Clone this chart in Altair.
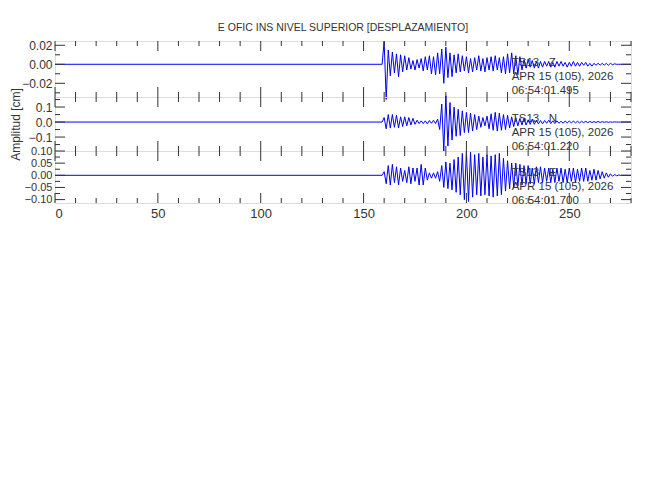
import altair as alt
import pandas as pd

# ---------------- data ----------------
T0 = 159.0   # time of first detailed sample (s)
DT = 1.0     # sample spacing (s)

z_vals = [
    0, 0.024, -0.037, 0.015, -0.012, 0.013, -0.009, 0.011, -0.013, 0.010,
    -0.008, 0.009, -0.006, 0.007, -0.005, 0.004, -0.006, 0.005, -0.004, 0.006,
    -0.007, 0.008, -0.006, 0.009, -0.010, 0.008, -0.011, 0.012, -0.010, 0.016,
    -0.020, 0.018, -0.014, 0.012, -0.013, 0.010, -0.009, 0.011, -0.008, 0.009,
    -0.007, 0.008, -0.009, 0.006, -0.008, 0.007, -0.006, 0.009, -0.007, 0.006,
    -0.008, 0.007, -0.006, 0.008, -0.007, 0.009, -0.006, 0.007, -0.009, 0.008,
    -0.010, 0.011, -0.009, 0.012, -0.010, 0.009, -0.011, 0.008, -0.006, 0.005,
    -0.004, 0.005, -0.003, 0.004, -0.004, 0.003, -0.004, 0.003, -0.003, 0.003,
    -0.002, 0.003, -0.003, 0.002, -0.003, 0.003, -0.002, 0.003, -0.002, 0.002,
    -0.003, 0.002, -0.002, 0.003, -0.002, 0.002, -0.002, 0.002, -0.001, 0.002,
    -0.002, 0.001, -0.002, 0.001, -0.001, 0.001, -0.001, 0.001, -0.001, 0.001,
    -0.001, 0.001, -0.0005, 0.0005, 0, 0, 0, 0, 0, 0, 0,
]

n_vals = [
    0, 0.03, -0.045, 0.05, -0.04, 0.05, -0.035, 0.045, -0.04, 0.035,
    -0.03, 0.035, -0.025, 0.03, -0.02, 0.025, -0.015, 0.012, -0.01, 0.008,
    -0.01, 0.008, -0.012, 0.01, -0.008, 0.012, -0.01, 0.02, -0.05, 0.12,
    -0.193, 0.175, -0.16, 0.13, -0.12, 0.1, -0.095, 0.085, -0.09, 0.075,
    -0.07, 0.065, -0.07, 0.06, -0.06, 0.05, -0.05, 0.04, -0.035, 0.03,
    -0.025, 0.04, -0.045, 0.055, -0.055, 0.065, -0.06, 0.06, -0.055, 0.05,
    -0.05, 0.045, -0.04, 0.035, -0.03, 0.03, -0.025, 0.025, -0.02, 0.025,
    -0.02, 0.015, -0.015, 0.02, -0.015, 0.012, -0.012, 0.01, -0.012, 0.01,
    -0.008, 0.012, -0.01, 0.008, -0.01, 0.008, -0.008, 0.006, -0.008, 0.007,
    -0.006, 0.007, -0.005, 0.006, -0.005, 0.005, -0.006, 0.005, -0.004, 0.005,
    -0.004, 0.004, -0.003, 0.003, -0.003, 0.004, -0.003, 0.003, -0.002, 0.002,
    -0.002, 0.001, -0.001, 0.001, 0, 0, 0, 0, 0, 0, 0,
]

e_vals = [
    0, 0.015, -0.035, 0.04, -0.04, 0.045, -0.03, 0.035, -0.04, 0.03,
    -0.025, 0.02, -0.03, 0.035, -0.035, 0.03, -0.025, 0.03, -0.04, 0.045,
    -0.04, 0.03, -0.02, 0.01, -0.012, 0.01, -0.012, 0.015, -0.025, 0.04,
    -0.05, 0.055, -0.055, 0.05, -0.06, 0.065, -0.07, 0.075, -0.08, 0.09,
    -0.1, 0.1, -0.108, 0.095, -0.09, 0.085, -0.08, 0.09, -0.085, 0.075,
    -0.08, 0.085, -0.085, 0.08, -0.09, 0.085, -0.085, 0.09, -0.08, 0.07,
    -0.065, 0.06, -0.055, 0.05, -0.05, 0.05, -0.045, 0.045, -0.04, 0.04,
    -0.035, 0.04, -0.035, 0.03, -0.035, 0.035, -0.03, 0.035, -0.03, 0.03,
    -0.025, 0.03, -0.03, 0.025, -0.03, 0.03, -0.025, 0.03, -0.03, 0.025,
    -0.03, 0.03, -0.025, 0.03, -0.03, 0.025, -0.025, 0.03, -0.025, 0.03,
    -0.025, 0.02, -0.02, 0.025, -0.02, 0.02, -0.015, 0.015, -0.012, 0.01,
    -0.008, 0.006, -0.004, 0.003, -0.002, 0.001, 0, 0, 0, 0, 0,
]

title_text = "E OFIC INS NIVEL SUPERIOR [DESPLAZAMIENTO]"
y_title = "Amplitud [cm]"
NB = "\u00a0"
labels = [
    ["TS13" + NB * 3 + "Z", "APR 15 (105), 2026", "06:54:01.495"],
    ["TS13" + NB * 3 + "N", "APR 15 (105), 2026", "06:54:01.220"],
    ["TS13" + NB * 3 + "E", "APR 15 (105), 2026", "06:54:01.700"],
]
label_t = 222.0
x_dom = [0, 280]
x_label_values = [0, 50, 100, 150, 200, 250]
x_tick_values = list(range(0, 281, 10))

y_doms = [[-0.0344, 0.0245], [-0.193, 0.167], [-0.114, 0.100]]
y_majors = [[-0.02, 0.0, 0.02], [-0.1, 0.0, 0.1], [-0.10, -0.05, 0.0, 0.05, 0.10]]
y_minors = [[-0.03, -0.01, 0.01], [-0.15, -0.05, 0.05, 0.15], [-0.075, -0.025, 0.025, 0.075]]
y_fmts = [".2f", ".1f", ".2f"]
y_label_sizes = [12, 12, 11]
heights = [56, 54, 52]
W = 576

FONT = "Liberation Sans"
TXT = "#333333"
TICK = "#333333"
LINE = "#0000ff"


def panel(i, vals, show_x, show_ytitle, title=None):
    h = heights[i]
    ts = [0.0] + [T0 + k * DT for k in range(len(vals))] + [280.0]
    amps = [0.0] + list(vals) + [0.0]
    df = pd.DataFrame({"t": ts, "a": amps})

    xs = alt.Scale(domain=x_dom, nice=False, zero=False)
    ys = alt.Scale(domain=y_doms[i], nice=False, zero=False)

    if show_x:
        xaxis = alt.Axis(values=x_label_values, format="d", ticks=False, domain=False,
                         grid=False, labelPadding=4, title=None, labelFont=FONT,
                         labelFontSize=13, labelColor=TXT)
    else:
        xaxis = None
    ykw = dict(values=y_majors[i], format=y_fmts[i], ticks=False, domain=False,
               grid=False, labelPadding=3, labelFont=FONT,
               labelFontSize=y_label_sizes[i], labelColor=TXT)
    if show_ytitle:
        ykw.update(title=y_title, titleFont=FONT, titleFontSize=12,
                   titleFontWeight="normal", titleColor=TXT, titlePadding=6)
    else:
        ykw.update(title=None)
    yaxis = alt.Axis(**ykw)

    X = alt.X("t:Q", scale=xs, axis=xaxis)
    Y = alt.Y("a:Q", scale=ys, axis=yaxis)

    layers = []
    line = alt.Chart(df).mark_line(color=LINE, strokeWidth=1).encode(x=X, y=Y)
    layers.append(line)

    xt = pd.DataFrame({"t": x_tick_values})
    xt["major"] = [v % 50 == 0 for v in x_tick_values]
    xmaj = xt[xt["major"]][["t"]]
    xmin = xt[~xt["major"]][["t"]]
    for d, ln in ((xmaj, 10), (xmin, 5)):
        layers.append(alt.Chart(d).mark_rule(color=TICK, strokeWidth=1).encode(
            x=X, y=alt.value(0), y2=alt.value(ln)))
        layers.append(alt.Chart(d).mark_rule(color=TICK, strokeWidth=1).encode(
            x=X, y=alt.value(h), y2=alt.value(h - ln)))

    ymaj = pd.DataFrame({"a": y_majors[i]})
    ymin = pd.DataFrame({"a": y_minors[i]})
    for d, ln in ((ymaj, 10), (ymin, 5)):
        layers.append(alt.Chart(d).mark_rule(color=TICK, strokeWidth=1).encode(
            y=Y, x=alt.value(0), x2=alt.value(ln)))
        layers.append(alt.Chart(d).mark_rule(color=TICK, strokeWidth=1).encode(
            y=Y, x=alt.value(W), x2=alt.value(W - ln)))

    tdf = pd.DataFrame({"t": [label_t], "label": ["\n".join(labels[i])]})
    layers.append(alt.Chart(tdf).mark_text(
        align="left", baseline="top", lineBreak="\n", lineHeight=14,
        font=FONT, fontSize=11.5, color=TXT).encode(
        x=X, y=alt.value(16), text="label:N"))

    ch = alt.layer(*layers).properties(width=W, height=h)
    if title is not None:
        ch = ch.properties(title=alt.TitleParams(
            text=title, font=FONT, fontSize=10.5, fontWeight="normal",
            color=TXT, anchor="middle", offset=6))
    return ch


p1 = panel(0, z_vals, False, False, title=title_text)
p2 = panel(1, n_vals, False, True)
p3 = panel(2, e_vals, True, False)

chart = alt.vconcat(p1, p2, p3, spacing=0, bounds="flush").properties(
    padding={"left": 0, "top": 14, "right": 5, "bottom": 5}
).configure_view(stroke="#999999", strokeWidth=1.5).configure(background="white")

chart.save("out.html", embed_options={"renderer": "svg", "actions": False})
